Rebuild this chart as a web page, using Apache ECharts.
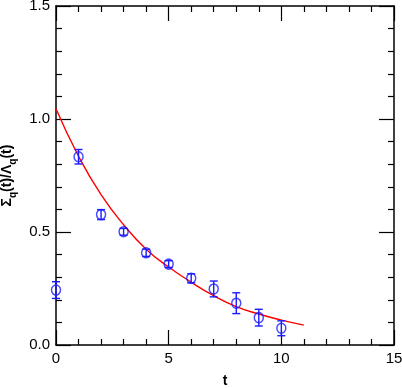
<!DOCTYPE html>
<html>
<head>
<meta charset="utf-8">
<script src="https://cdn.jsdelivr.net/npm/echarts@6/dist/echarts.min.js"></script>
<style>
  html, body { margin: 0; padding: 0; background: #fff; }
  #chart { width: 402px; height: 388px; }
</style>
</head>
<body>
<div id="chart"></div>
<script>
// data points: t, value, error
var tValues = [0, 1, 2, 3, 4, 5, 6, 7, 8, 9, 10];
var ratioValues = [0.243, 0.833, 0.577, 0.501, 0.408, 0.358, 0.295, 0.248, 0.185, 0.121, 0.074];
var ratioErrors = [0.037, 0.032, 0.022, 0.015, 0.016, 0.015, 0.020, 0.035, 0.046, 0.037, 0.033];

// red fit curve
var fitT = [0, 1, 2, 3, 4, 5, 6, 7, 8, 9, 10, 11];
var fitValues = [1.045, 0.835, 0.665, 0.532, 0.424, 0.345, 0.278, 0.218, 0.170, 0.137, 0.110, 0.088];

var xTicks = [0, 5, 10, 15];
var yTicks = [0.0, 0.5, 1.0, 1.5];

(function () {
  var chart = echarts.init(document.getElementById('chart'), null, { renderer: 'canvas' });
  var ink = '#000';
  var blue = '#1a1aff';
  var font = 'Liberation Sans';

  function axisCommon(show) {
    return {
      axisLine: { show: true, onZero: false, lineStyle: { color: ink, width: 1.5 } },
      axisTick: { show: true, inside: true, length: 15, lineStyle: { color: ink, width: 1.2 } },
      minorTick: { show: true, splitNumber: 5, length: 6, lineStyle: { color: ink, width: 1.2 } },
      splitLine: { show: false },
      axisLabel: { show: show }
    };
  }

  var xBottom = Object.assign(axisCommon(true), {
    type: 'value', position: 'bottom', min: xTicks[0], max: xTicks[xTicks.length - 1], interval: 5,
    name: 't', nameLocation: 'middle', nameGap: 29,
    nameTextStyle: { fontFamily: font, fontSize: 14, fontWeight: 'bold', color: ink }
  });
  xBottom.axisLabel = { show: true, margin: 6, color: ink, fontFamily: font, fontSize: 15 };
  var xTop = Object.assign(axisCommon(false), {
    type: 'value', position: 'top', min: 0, max: 15, interval: 5
  });

  var yLeft = Object.assign(axisCommon(true), {
    type: 'value', position: 'left', min: yTicks[0], max: yTicks[yTicks.length - 1], interval: 0.5,
    name: '{a|Σ}{s|q}{a|(t)/Λ}{s|q}{a|(t)}', nameLocation: 'middle', nameGap: 29, nameRotate: 90,
    nameTextStyle: {
      rich: {
        a: { fontFamily: font, fontSize: 14, fontWeight: 'bold', color: ink, lineHeight: 20, verticalAlign: 'bottom' },
        s: { fontFamily: font, fontSize: 10, fontWeight: 'bold', color: ink, lineHeight: 20, verticalAlign: 'bottom', padding: [0, 0, -4, 0] }
      }
    }
  });
  yLeft.axisLabel = {
    show: true, margin: 6, color: ink, fontFamily: font, fontSize: 15,
    formatter: function (v) { return v.toFixed(1); }
  };
  var yRight = Object.assign(axisCommon(false), {
    type: 'value', position: 'right', min: 0, max: 1.5, interval: 0.5
  });

  chart.setOption({
    animation: false,
    backgroundColor: '#fff',
    grid: { left: 56, right: 8, top: 6, bottom: 43, containLabel: false, outerBoundsMode: 'none' },
    xAxis: [xBottom, xTop],
    yAxis: [yLeft, yRight],
    series: [
      {
        name: 'fit',
        type: 'line',
        smooth: true,
        showSymbol: false,
        lineStyle: { color: '#ff0000', width: 1.4 },
        data: fitT.map(function (t, i) { return [t, fitValues[i]]; }),
        z: 2
      },
      {
        name: 'err',
        type: 'custom',
        data: tValues.map(function (t, i) { return [t, ratioValues[i] - ratioErrors[i], ratioValues[i] + ratioErrors[i]]; }),
        renderItem: function (params, api) {
          var lo = api.coord([api.value(0), api.value(1)]);
          var hi = api.coord([api.value(0), api.value(2)]);
          var cap = 4;
          var st = { stroke: blue, lineWidth: 1.4 };
          return {
            type: 'group',
            children: [
              { type: 'line', shape: { x1: lo[0], y1: lo[1], x2: hi[0], y2: hi[1] }, style: st },
              { type: 'line', shape: { x1: lo[0] - cap, y1: lo[1], x2: lo[0] + cap, y2: lo[1] }, style: st },
              { type: 'line', shape: { x1: hi[0] - cap, y1: hi[1], x2: hi[0] + cap, y2: hi[1] }, style: st }
            ]
          };
        },
        z: 3
      },
      {
        name: 'data',
        type: 'scatter',
        symbol: 'circle',
        symbolSize: [9, 10],
        itemStyle: { color: 'rgba(0,0,0,0)', borderColor: blue, borderWidth: 1.5 },
        emphasis: { disabled: true },
        data: tValues.map(function (t, i) { return [t, ratioValues[i]]; }),
        z: 4
      }
    ]
  });
})();
</script>
</body>
</html>
